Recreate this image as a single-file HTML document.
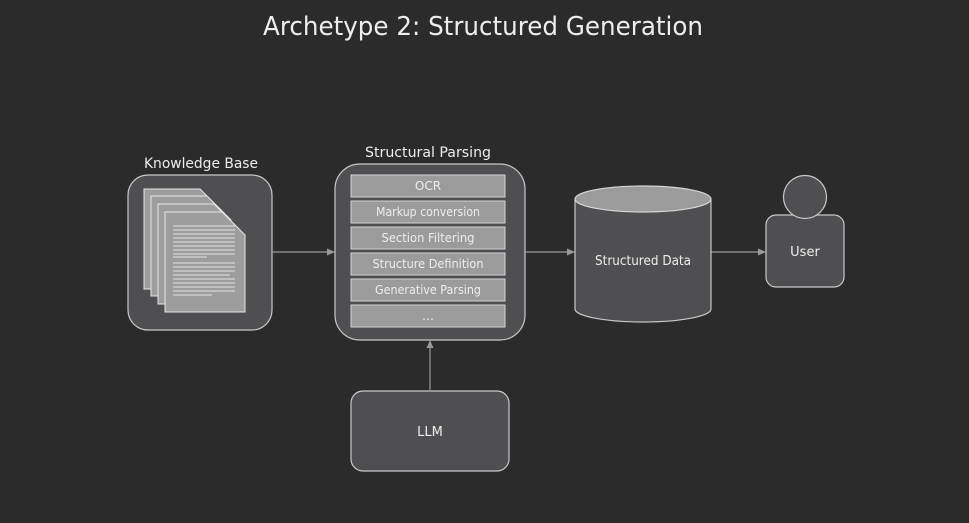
<!DOCTYPE html>
<html><head><meta charset="utf-8"><style>
html,body{margin:0;padding:0;background:#2b2b2b;}
svg{display:block;}
text{font-family:"DejaVu Sans","Liberation Sans",sans-serif;fill:#ededed;}
</style></head><body>
<svg width="969" height="523" viewBox="0 0 969 523" xmlns="http://www.w3.org/2000/svg">
<defs>
<marker id="ar" markerWidth="8" markerHeight="8" refX="7" refY="4" orient="auto" markerUnits="userSpaceOnUse">
<path d="M0,0.5 L8,4 L0,7.5 Z" fill="#9a9a9a"/>
</marker>
</defs>
<rect width="969" height="523" fill="#2b2b2b"/>
<text x="483" y="35" font-size="26" text-anchor="middle" textLength="440" lengthAdjust="spacingAndGlyphs">Archetype 2: Structured Generation</text>

<!-- Knowledge base -->
<text x="201" y="168" font-size="14" text-anchor="middle" textLength="114" lengthAdjust="spacingAndGlyphs">Knowledge Base</text>
<rect x="128" y="175" width="144" height="155" rx="20" fill="#4f4f51" stroke="#c8c8c8" stroke-width="1.2"/>
<g fill="#9d9d9d" stroke="#e6e6e6" stroke-width="1">
<path d="M144,189 h56 l24,24 v76 h-80 z"/>
<path d="M151,196 h56 l24,24 v76 h-80 z"/>
<path d="M158,204 h56 l24,24 v76 h-80 z"/>
<path d="M165,212 h57 l23,23 v77 h-80 z"/>
</g>
<g stroke="#e2e2e2" stroke-width="1">
<line x1="173" y1="226" x2="235" y2="226"/><line x1="173" y1="230" x2="235" y2="230"/>
<line x1="173" y1="234" x2="235" y2="234"/><line x1="173" y1="238" x2="235" y2="238"/>
<line x1="173" y1="242" x2="235" y2="242"/><line x1="173" y1="246" x2="235" y2="246"/>
<line x1="173" y1="250" x2="235" y2="250"/><line x1="173" y1="254" x2="235" y2="254"/>
<line x1="173" y1="257" x2="207" y2="257"/>
<line x1="173" y1="263" x2="235" y2="263"/><line x1="173" y1="267" x2="235" y2="267"/>
<line x1="173" y1="271" x2="235" y2="271"/><line x1="173" y1="275" x2="230" y2="275"/>
<line x1="173" y1="279" x2="235" y2="279"/><line x1="173" y1="283" x2="235" y2="283"/>
<line x1="173" y1="287" x2="235" y2="287"/><line x1="173" y1="291" x2="235" y2="291"/>
<line x1="173" y1="295" x2="212" y2="295"/>
</g>

<!-- arrows -->
<g stroke="#9a9a9a" stroke-width="1.2" fill="none" marker-end="url(#ar)">
<line x1="272" y1="252" x2="334" y2="252"/>
<line x1="525" y1="252" x2="574" y2="252"/>
<line x1="711" y1="252" x2="765" y2="252"/>
<line x1="430" y1="390" x2="430" y2="341"/>
</g>

<!-- Structural parsing -->
<text x="428" y="157" font-size="14" text-anchor="middle" textLength="126" lengthAdjust="spacingAndGlyphs">Structural Parsing</text>
<rect x="335" y="164" width="190" height="176" rx="25" fill="#4f4f51" stroke="#c8c8c8" stroke-width="1.2"/>
<g fill="#9b9b9b" stroke="#d6d6d6" stroke-width="1">
<rect x="351" y="175" width="154" height="22"/>
<rect x="351" y="201" width="154" height="22"/>
<rect x="351" y="227" width="154" height="22"/>
<rect x="351" y="253" width="154" height="22"/>
<rect x="351" y="279" width="154" height="22"/>
<rect x="351" y="305" width="154" height="22"/>
</g>
<g font-size="12" text-anchor="middle">
<text x="428" y="190">OCR</text>
<text x="428" y="216" textLength="104" lengthAdjust="spacingAndGlyphs">Markup conversion</text>
<text x="428" y="242" textLength="93" lengthAdjust="spacingAndGlyphs">Section Filtering</text>
<text x="428" y="268" textLength="111" lengthAdjust="spacingAndGlyphs">Structure Definition</text>
<text x="428" y="294" textLength="106" lengthAdjust="spacingAndGlyphs">Generative Parsing</text>
<text x="428" y="320">…</text>
</g>

<!-- Cylinder -->
<path d="M575,199 v110 a68,13 0 0 0 136,0 v-110" fill="#4f4f51" stroke="#c8c8c8" stroke-width="1.2"/>
<ellipse cx="643" cy="199" rx="68" ry="13" fill="#9b9b9b" stroke="#d6d6d6" stroke-width="1.2"/>
<text x="643" y="265" font-size="13" text-anchor="middle" textLength="96" lengthAdjust="spacingAndGlyphs">Structured Data</text>

<!-- User -->
<rect x="766" y="215" width="78" height="72" rx="10" fill="#4f4f51" stroke="#c8c8c8" stroke-width="1.2"/>
<circle cx="805" cy="197" r="21.5" fill="#4f4f51" stroke="#c8c8c8" stroke-width="1.2"/>
<text x="805" y="256" font-size="13" text-anchor="middle">User</text>

<!-- LLM -->
<rect x="351" y="391" width="158" height="80" rx="12" fill="#4f4f51" stroke="#c8c8c8" stroke-width="1.2"/>
<text x="430" y="436" font-size="13" text-anchor="middle">LLM</text>
</svg>
</body></html>
